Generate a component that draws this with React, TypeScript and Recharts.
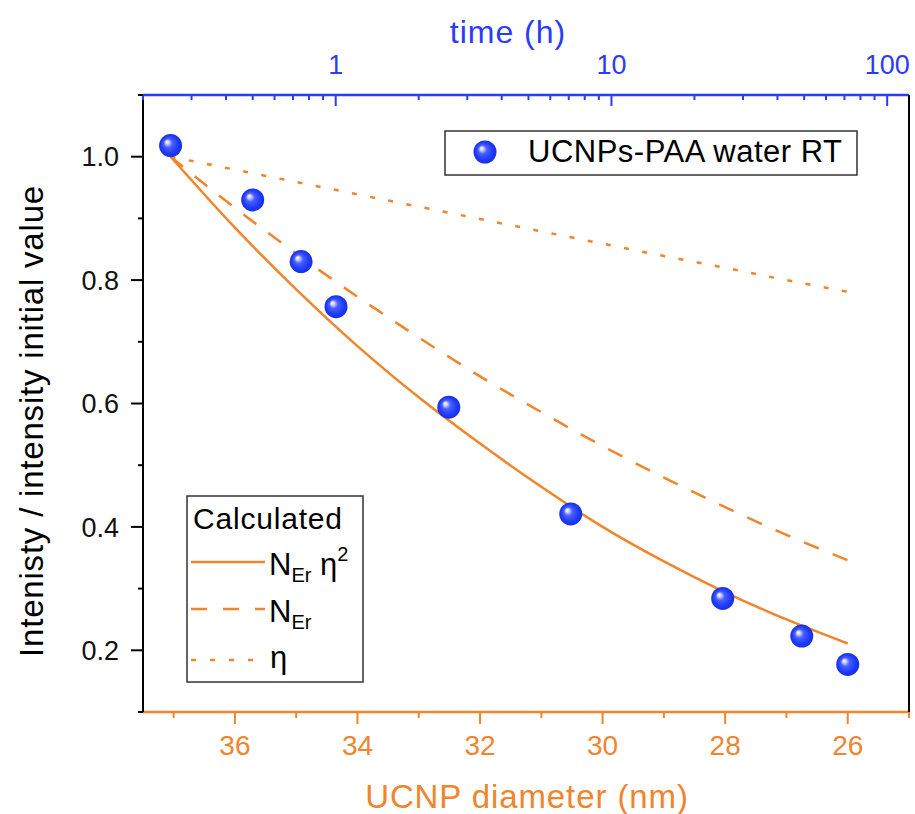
import React from 'react';
import { ComposedChart, Line, Scatter, XAxis, YAxis } from 'recharts';

const ORANGE = '#F0852D';
const BLUE = '#2A3CF7';
const FONT = '"Liberation Sans", Arial, sans-serif';

const curveDiameter = [37.05, 36, 35, 34, 33, 32, 31, 30, 29, 28, 27, 26];
const nErEta2 = [1.0, 0.885, 0.785, 0.693, 0.61, 0.535, 0.465, 0.4, 0.344, 0.294, 0.25, 0.211];
const nEr = [1.0, 0.917, 0.843, 0.773, 0.707, 0.644, 0.586, 0.531, 0.48, 0.432, 0.387, 0.346];
const eta = [1.0, 0.979, 0.959, 0.939, 0.919, 0.899, 0.879, 0.859, 0.839, 0.82, 0.8, 0.781];

// measured UCNPs-PAA in water at RT
const measDiameter = [37.05, 35.71, 34.92, 34.35, 32.51, 30.52, 28.04, 26.75, 26.0];
const measIntensity = [1.018, 0.93, 0.83, 0.757, 0.594, 0.421, 0.284, 0.223, 0.177];

const diameterTicks = [37, 36, 35, 34, 33, 32, 31, 30, 29, 28, 27, 26, 25];
const intensityTicks = [0.1, 0.2, 0.3, 0.4, 0.5, 0.6, 0.7, 0.8, 0.9, 1.0, 1.1];
// top axis is log10(time in h), from 0.2 h to 120 h
const timeRange = [0.2, 120];
const timeTicks = [
  0.2, 0.3, 0.4, 0.5, 0.6, 0.7, 0.8, 0.9, 1,
  2, 3, 4, 5, 6, 7, 8, 9, 10,
  20, 30, 40, 50, 60, 70, 80, 90, 100,
];
const timeLabels = [1, 10, 100];

const toRows = (xs: number[], ys: number[]) => xs.map((d, i) => ({ d, v: ys[i] }));
const logTicks = timeTicks.map((t) => Math.log10(t));

const SphereDefs = ({ id }: { id: string }) => (
  <defs>
    <radialGradient id={id} cx="0.5" cy="0.5" r="0.5" fx="0.33" fy="0.33">
      <stop offset="0%" stopColor="#ffffff" />
      <stop offset="14%" stopColor="#d4d9ff" />
      <stop offset="38%" stopColor="#4a5fff" />
      <stop offset="75%" stopColor="#1f3bff" />
      <stop offset="100%" stopColor="#1630dc" />
    </radialGradient>
  </defs>
);

const Sphere = (props: any) => {
  const { cx, cy } = props;
  if (cx == null || cy == null) return null;
  return <circle cx={cx} cy={cy} r={11.5} fill="url(#sphere)" />;
};

const LeftTick = ({ x, y, payload }: any) => {
  const major = Math.round(payload.value * 10) % 2 === 0;
  return (
    <g>
      <line x1={x - (major ? 12 : 5)} x2={x} y1={y} y2={y} stroke="#000" strokeWidth={2} />
      {major && (
        <text x={x - 24} y={y} dy="0.36em" textAnchor="end" fontSize={27} fontFamily={FONT} fill="#111">
          {payload.value.toFixed(1)}
        </text>
      )}
    </g>
  );
};

const BottomTick = ({ x, y, payload }: any) => {
  const major = payload.value % 2 === 0;
  return (
    <g>
      <line x1={x} x2={x} y1={y} y2={y + (major ? 12 : 6)} stroke={ORANGE} strokeWidth={2} />
      {major && (
        <text x={x} y={y + 43} textAnchor="middle" fontSize={28} fontFamily={FONT} fill={ORANGE}>
          {payload.value}
        </text>
      )}
    </g>
  );
};

const TopTick = ({ x, y, payload }: any) => {
  const t = Math.round(Math.pow(10, payload.value) * 10) / 10;
  const major = timeLabels.includes(t);
  return (
    <g>
      <line x1={x} x2={x} y1={y} y2={y + (major ? 11 : 5)} stroke={BLUE} strokeWidth={2} />
      {major && (
        <text x={x} y={y - 21} textAnchor="middle" fontSize={27} fontFamily={FONT} fill={BLUE}>
          {t}
        </text>
      )}
    </g>
  );
};

export default function App() {
  return (
    <div style={{ position: 'absolute', left: 0, top: 0, width: 915, height: 814, background: '#fff' }}>
      <ComposedChart width={915} height={814} margin={{ top: 0, right: 0, bottom: 0, left: 0 }}>
        <SphereDefs id="sphere" />
        <XAxis
          xAxisId="d"
          dataKey="d"
          type="number"
          domain={[25, 37.5]}
          reversed
          allowDataOverflow
          ticks={diameterTicks}
          interval={0}
          height={102}
          tickSize={0}
          tickMargin={0}
          tickLine={false}
          axisLine={{ stroke: ORANGE, strokeWidth: 2.5 }}
          tick={<BottomTick />}
        />
        <XAxis
          xAxisId="t"
          dataKey="lt"
          orientation="top"
          type="number"
          domain={timeRange.map((t) => Math.log10(t))}
          allowDataOverflow
          ticks={logTicks}
          interval={0}
          height={95}
          tickSize={0}
          tickMargin={0}
          tickLine={false}
          axisLine={{ stroke: BLUE, strokeWidth: 2.5 }}
          tick={<TopTick />}
        />
        <YAxis
          yAxisId="i"
          type="number"
          domain={[0.1, 1.1]}
          allowDataOverflow
          ticks={intensityTicks}
          interval={0}
          width={143}
          tickSize={0}
          tickMargin={0}
          tickLine={false}
          axisLine={{ stroke: '#000', strokeWidth: 2 }}
          tick={<LeftTick />}
        />
        <YAxis
          yAxisId="r"
          orientation="right"
          type="number"
          domain={[0.1, 1.1]}
          width={6}
          tick={false}
          tickLine={false}
          axisLine={{ stroke: '#000', strokeWidth: 2 }}
        />
        {/* empty series so the time axis gets a scale */}
        <Line
          xAxisId="t"
          yAxisId="i"
          data={timeLabels.map((t) => ({ lt: Math.log10(t), v: null }))}
          dataKey="v"
          stroke="none"
          dot={false}
          activeDot={false}
          legendType="none"
          isAnimationActive={false}
        />
        <Line
          xAxisId="d"
          yAxisId="i"
          data={toRows(curveDiameter, eta)}
          dataKey="v"
          type="monotone"
          stroke={ORANGE}
          strokeWidth={2.5}
          strokeDasharray="5 13.5"
          dot={false}
          activeDot={false}
          isAnimationActive={false}
        />
        <Line
          xAxisId="d"
          yAxisId="i"
          data={toRows(curveDiameter, nEr)}
          dataKey="v"
          type="monotone"
          stroke={ORANGE}
          strokeWidth={2.5}
          strokeDasharray="16 15"
          dot={false}
          activeDot={false}
          isAnimationActive={false}
        />
        <Line
          xAxisId="d"
          yAxisId="i"
          data={toRows(curveDiameter, nErEta2)}
          dataKey="v"
          type="monotone"
          stroke={ORANGE}
          strokeWidth={2.5}
          dot={false}
          activeDot={false}
          isAnimationActive={false}
        />
        <Scatter
          xAxisId="d"
          yAxisId="i"
          data={toRows(measDiameter, measIntensity)}
          dataKey="v"
          shape={<Sphere />}
          isAnimationActive={false}
        />
      </ComposedChart>

      {/* titles and the two boxed legends */}
      <svg width={915} height={814} style={{ position: 'absolute', left: 0, top: 0, pointerEvents: 'none' }} fontFamily={FONT}>
        <SphereDefs id="sphereLegend" />
        <text x={508} y={43} textAnchor="middle" fontSize={32} letterSpacing={1} fill={BLUE}>time (h)</text>
        <text x={527} y={808} textAnchor="middle" fontSize={33} letterSpacing={0.9} fill={ORANGE}>UCNP diameter (nm)</text>
        <text transform="translate(43,421) rotate(-90)" textAnchor="middle" fontSize={33} letterSpacing={0.8} fill="#000">
          Intenisty / intensity initial value
        </text>

        <rect x={445} y={131} width={412} height={44} fill="#fff" stroke="#333" strokeWidth={1.5} />
        <circle cx={485} cy={152} r={11.5} fill="url(#sphereLegend)" />
        <text x={528} y={162} fontSize={31} letterSpacing={0.5} fill="#000">UCNPs-PAA water RT</text>

        <rect x={187} y={496} width={176} height={186} fill="#fff" stroke="#333" strokeWidth={1.5} />
        <text x={193} y={529} fontSize={30} letterSpacing={0.8} fill="#000">Calculated</text>
        <line x1={191} x2={265} y1={562} y2={562} stroke={ORANGE} strokeWidth={2.5} />
        <text x={269} y={575} fontSize={31} fill="#000">
          N<tspan fontSize={20} dy={7}>Er</tspan>
          <tspan dy={-7}> η</tspan>
          <tspan fontSize={20} dy={-14}>2</tspan>
        </text>
        <line x1={191} x2={265} y1={609} y2={609} stroke={ORANGE} strokeWidth={2.5} strokeDasharray="16 16" />
        <text x={269} y={622} fontSize={31} fill="#000">
          N<tspan fontSize={20} dy={7}>Er</tspan>
        </text>
        <line x1={191} x2={265} y1={660} y2={660} stroke={ORANGE} strokeWidth={2.5} strokeDasharray="5 14" />
        <text x={270} y={668} fontSize={31} fill="#000">η</text>
      </svg>
    </div>
  );
}
